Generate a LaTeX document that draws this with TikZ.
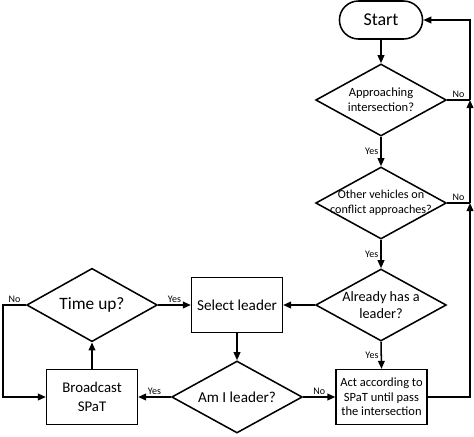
\documentclass[tikz,border=0pt]{standalone}
\usepackage{fontspec}
\setmainfont{Carlito}
\usetikzlibrary{arrows.meta,shapes,positioning,calc}

\begin{document}
\begin{tikzpicture}[x=0.75pt,y=-0.75pt,line width=1.15pt,>={Triangle[length=6pt,width=5pt]},
  block/.style={draw,rectangle,minimum width=68pt,minimum height=41pt,align=center,inner sep=1pt},
  decision/.style={draw,diamond,minimum width=98pt,minimum height=54pt,inner sep=0pt},
  dtext/.style={align=center,inner sep=0pt},
  term/.style={draw,rounded rectangle,minimum width=69pt,minimum height=28.5pt},
  lbl/.style={font=\fontsize{7.5}{9}\selectfont,inner sep=1.5pt}]
\useasboundingbox (0,0) rectangle (474,436);
% right column
\node[term,font=\fontsize{13.5}{16}\selectfont] (start) at (381,20) {Start};
\node[decision,label={[dtext,font=\fontsize{9.4}{11}\selectfont]center:Approaching\\intersection?}] (q1) at (381,100) {};
\node[decision,label={[dtext,font=\fontsize{9.1}{11}\selectfont]center:Other vehicles on\\conflict approaches?}] (q2) at (381,203) {};
\node[decision,label={[dtext,font=\fontsize{10.7}{13}\selectfont]center:Already has a\\leader?}] (q3) at (381,305) {};
\node[block,font=\fontsize{9.4}{10.8}\selectfont] (act) at (381.5,397) {Act according to\\SPaT until pass\\the intersection};
% middle and left
\node[block,font=\fontsize{11.4}{14}\selectfont] (sel) at (237,305) {Select leader};
\node[decision,label={[dtext,font=\fontsize{11.4}{14}\selectfont]center:Am I leader?}] (am) at (237,397) {};
\node[decision,minimum height=55pt,label={[dtext,font=\fontsize{13}{16}\selectfont]center:Time up?}] (tu) at (92,305) {};
\node[block,font=\fontsize{11.1}{13.8}\selectfont] (bc) at (92,397) {Broadcast\\SPaT};
\coordinate (rx) at (470,20);
\coordinate (lx) at (3,305);
% connectors
\draw[->] (start.south) -- (q1.north);
\draw[->] (q1.south) -- node[lbl,left]{Yes} (q2.north);
\draw[->] (q2.south) -- node[lbl,left]{Yes} (q3.north);
\draw[->] (q3.south) -- node[lbl,left]{Yes} (act.north);
\draw[->] (q3.west) -- (sel.east);
\draw[->] (sel.south) -- (am.north);
\draw[->] (am.east) -- node[lbl,above]{No} (act.west);
\draw[->] (am.west) -- node[lbl,above]{Yes} (bc.east);
\draw[->] (bc.north) -- (tu.south);
\draw[->] (tu.east) -- node[lbl,above]{Yes} (sel.west);
\draw[->] (tu.west) -- node[lbl,above]{No} (lx) |- (bc.west);
% loop back to start
\draw (q1.east) -- node[lbl,above]{No} (q1.east -| rx);
\draw (q2.east) -- node[lbl,above]{No} (q2.east -| rx);
\draw[->] (act.east) -- (act.east -| rx) -- (q2.east -| rx);
\draw[->] (q2.east -| rx) -- (q1.east -| rx);
\draw[->] (q1.east -| rx) -- (rx) -- (start.east);
\end{tikzpicture}
\end{document}
